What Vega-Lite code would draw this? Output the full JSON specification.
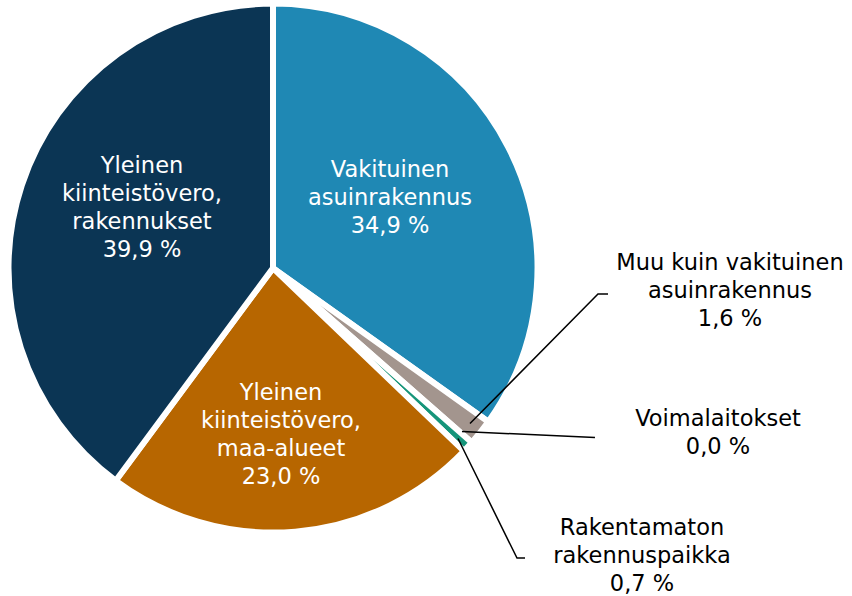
{
  "$schema": "https://vega.github.io/schema/vega-lite/v6.json",
  "width": 852,
  "height": 596,
  "autosize": {"type": "fit", "contains": "padding"},
  "padding": 0,
  "background": "white",
  "config": {"view": {"stroke": null}},
  "datasets": {
    "slices": [
      {"cat": "Vakituinen asuinrakennus", "share": 34.9, "ord": 1},
      {"cat": "Muu kuin vakituinen asuinrakennus", "share": 1.6, "ord": 2},
      {"cat": "Voimalaitokset", "share": 0.0, "ord": 3},
      {"cat": "Rakentamaton rakennuspaikka", "share": 0.7, "ord": 4},
      {"cat": "Yleinen kiinteistövero, maa-alueet", "share": 23.0, "ord": 5},
      {"cat": "Yleinen kiinteistövero, rakennukset", "share": 39.9, "ord": 6}
    ],
    "labels": [
      {"label": "Vakituinen\nasuinrakennus\n34,9 %", "x": 1.17, "y": 1.095, "tone": "light"},
      {"label": "Yleinen\nkiinteistövero,\nrakennukset\n39,9 %", "x": -1.31, "y": 1.13, "tone": "light"},
      {"label": "Yleinen\nkiinteistövero,\nmaa-alueet\n23,0 %", "x": 0.08, "y": -1.14, "tone": "light"},
      {"label": "Muu kuin vakituinen\nasuinrakennus\n1,6 %", "x": 4.57, "y": 0.16, "tone": "dark"},
      {"label": "Voimalaitokset\n0,0 %", "x": 4.45, "y": -1.40, "tone": "dark"},
      {"label": "Rakentamaton\nrakennuspaikka\n0,7 %", "x": 3.69, "y": -2.50, "tone": "dark"}
    ],
    "leaders": [
      {"line": "muu", "pt": 1, "x": 1.97, "y": -1.56},
      {"line": "muu", "pt": 2, "x": 3.25, "y": -0.26},
      {"line": "muu", "pt": 3, "x": 3.35, "y": -0.26},
      {"line": "voima", "pt": 1, "x": 1.89, "y": -1.64},
      {"line": "voima", "pt": 2, "x": 3.22, "y": -1.70},
      {"line": "rak", "pt": 1, "x": 1.85, "y": -1.71},
      {"line": "rak", "pt": 2, "x": 2.44, "y": -2.91},
      {"line": "rak", "pt": 3, "x": 2.52, "y": -2.91}
    ]
  },
  "resolve": {"scale": {"color": "independent"}},
  "layer": [
    {
      "data": {"name": "slices"},
      "mark": {"type": "arc", "outerRadius": 264.5, "stroke": "white", "strokeWidth": 6, "strokeJoin": "round"},
      "encoding": {
        "x": {"datum": 0, "type": "quantitative", "scale": {"domain": [-2.73, 5.79], "nice": false, "zero": false}, "axis": null},
        "y": {"datum": 0, "type": "quantitative", "scale": {"domain": [-3.27, 2.69], "nice": false, "zero": false}, "axis": null},
        "theta": {"field": "share", "type": "quantitative", "stack": true},
        "order": {"field": "ord", "type": "quantitative"},
        "strokeOpacity": {"condition": {"test": "datum.share == 0", "value": 0}, "value": 1},
        "color": {
          "field": "cat",
          "type": "nominal",
          "scale": {
            "domain": ["Vakituinen asuinrakennus", "Muu kuin vakituinen asuinrakennus", "Voimalaitokset", "Rakentamaton rakennuspaikka", "Yleinen kiinteistövero, maa-alueet", "Yleinen kiinteistövero, rakennukset"],
            "range": ["#1f88b4", "#a3958e", "#5fa8c9", "#16957a", "#b76600", "#0b3554"]
          },
          "legend": null
        }
      }
    },
    {
      "data": {"name": "leaders"},
      "mark": {"type": "line", "color": "black", "strokeWidth": 1.5},
      "encoding": {
        "x": {"field": "x", "type": "quantitative"},
        "y": {"field": "y", "type": "quantitative"},
        "detail": {"field": "line", "type": "nominal"},
        "order": {"field": "pt", "type": "quantitative"}
      }
    },
    {
      "data": {"name": "labels"},
      "mark": {"type": "text", "font": "DejaVu Sans", "fontSize": 22.5, "lineHeight": 28, "lineBreak": "\n", "baseline": "top", "align": "center"},
      "encoding": {
        "x": {"field": "x", "type": "quantitative"},
        "y": {"field": "y", "type": "quantitative"},
        "text": {"field": "label", "type": "nominal"},
        "color": {"field": "tone", "type": "nominal", "scale": {"domain": ["light", "dark"], "range": ["white", "black"]}, "legend": null}
      }
    }
  ]
}
